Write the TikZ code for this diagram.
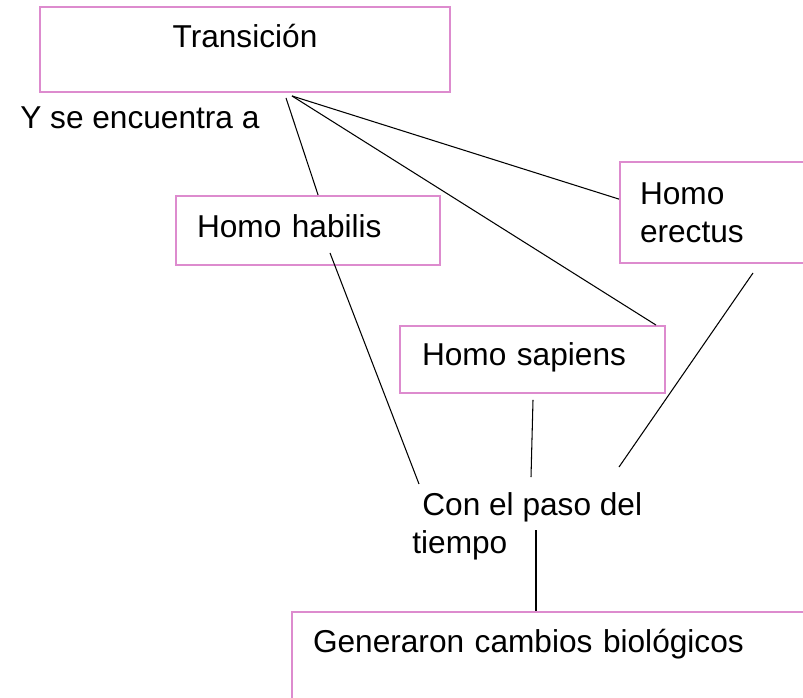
\documentclass[tikz,border=0pt]{standalone}
\usepackage{fontspec}
\setmainfont{Liberation Sans}
\usetikzlibrary{calc}
\definecolor{boxpink}{RGB}{221,139,206}
\begin{document}
\begin{tikzpicture}[
    every node/.style={font=\fontsize{18}{21.8}\selectfont, inner sep=0pt},
    caja/.style={draw=boxpink, line width=1.1pt, align=left},
    enlace/.style={draw=black, line width=0.6pt}]
  \useasboundingbox (0,0) rectangle (16.06,-13.94);
  \clip (0,0) rectangle (16.06,-13.94);
  % cajas
  \node[caja, align=center, text width=8.2cm, text height=0.8cm, text depth=0.9cm] (trans) at (4.9,-0.99) {Transición};
  \node[anchor=base west] (encuentra) at (0.4,-2.56) {Y se encuentra a};
  \node[caja, inner xsep=0.42cm, text width=4.44cm, text height=0.82cm, text depth=0.56cm] (habilis) at (6.16,-4.61) {Homo habilis};
  \node[caja, inner xsep=0.4cm, text width=3.4cm, minimum height=2.02cm] (erectus) at (14.5,-4.25) {Homo\\erectus};
  \node[caja, inner xsep=0.44cm, text width=4.42cm, text height=0.78cm, text depth=0.56cm] (sapiens) at (10.65,-7.19) {Homo sapiens};
  \node[anchor=west, align=left] (paso) at (8.24,-10.52) {\hspace*{0.2cm}Con el paso del\\tiempo};
  \node[caja, inner xsep=0.42cm, text width=9.92cm, text height=0.8cm, text depth=1.36cm] (genera) at (11.22,-13.32) {Generaron cambios biológicos};
  % puntos sueltos
  \coordinate (t1) at ($(trans.south)+(0.82,-0.1)$);
  \coordinate (t2) at ($(trans.south)+(0.94,-0.06)$);
  \coordinate (h1) at ($(habilis.south)+(0.44,0.26)$);
  \coordinate (s1) at ($(sapiens.south)+(0.01,-0.12)$);
  \coordinate (e1) at ($(erectus.south)+(0.56,-0.18)$);
  \coordinate (p1) at ($(paso.west)+(0.14,0.84)$);
  \coordinate (p2) at ($(paso.west)+(2.38,0.98)$);
  \coordinate (p3) at ($(paso.west)+(4.14,1.18)$);
  \coordinate (p4) at ($(paso.west)+(2.48,-0.08)$);
  % enlaces
  \draw[enlace] (t1) -- ($(habilis.north west)!0.538!(habilis.north east)$);
  \draw[enlace] (t2) -- ($(sapiens.north east)+(-0.2,0)$);
  \draw[enlace] (t2) -- ($(erectus.north west)!0.37!(erectus.south west)$);
  \draw[enlace] (h1) -- (p1);
  \draw[enlace] (s1) -- (p2);
  \draw[enlace] (e1) -- (p3);
  \draw[enlace] (p4) -- (p4 |- genera.north);
\end{tikzpicture}
\end{document}
